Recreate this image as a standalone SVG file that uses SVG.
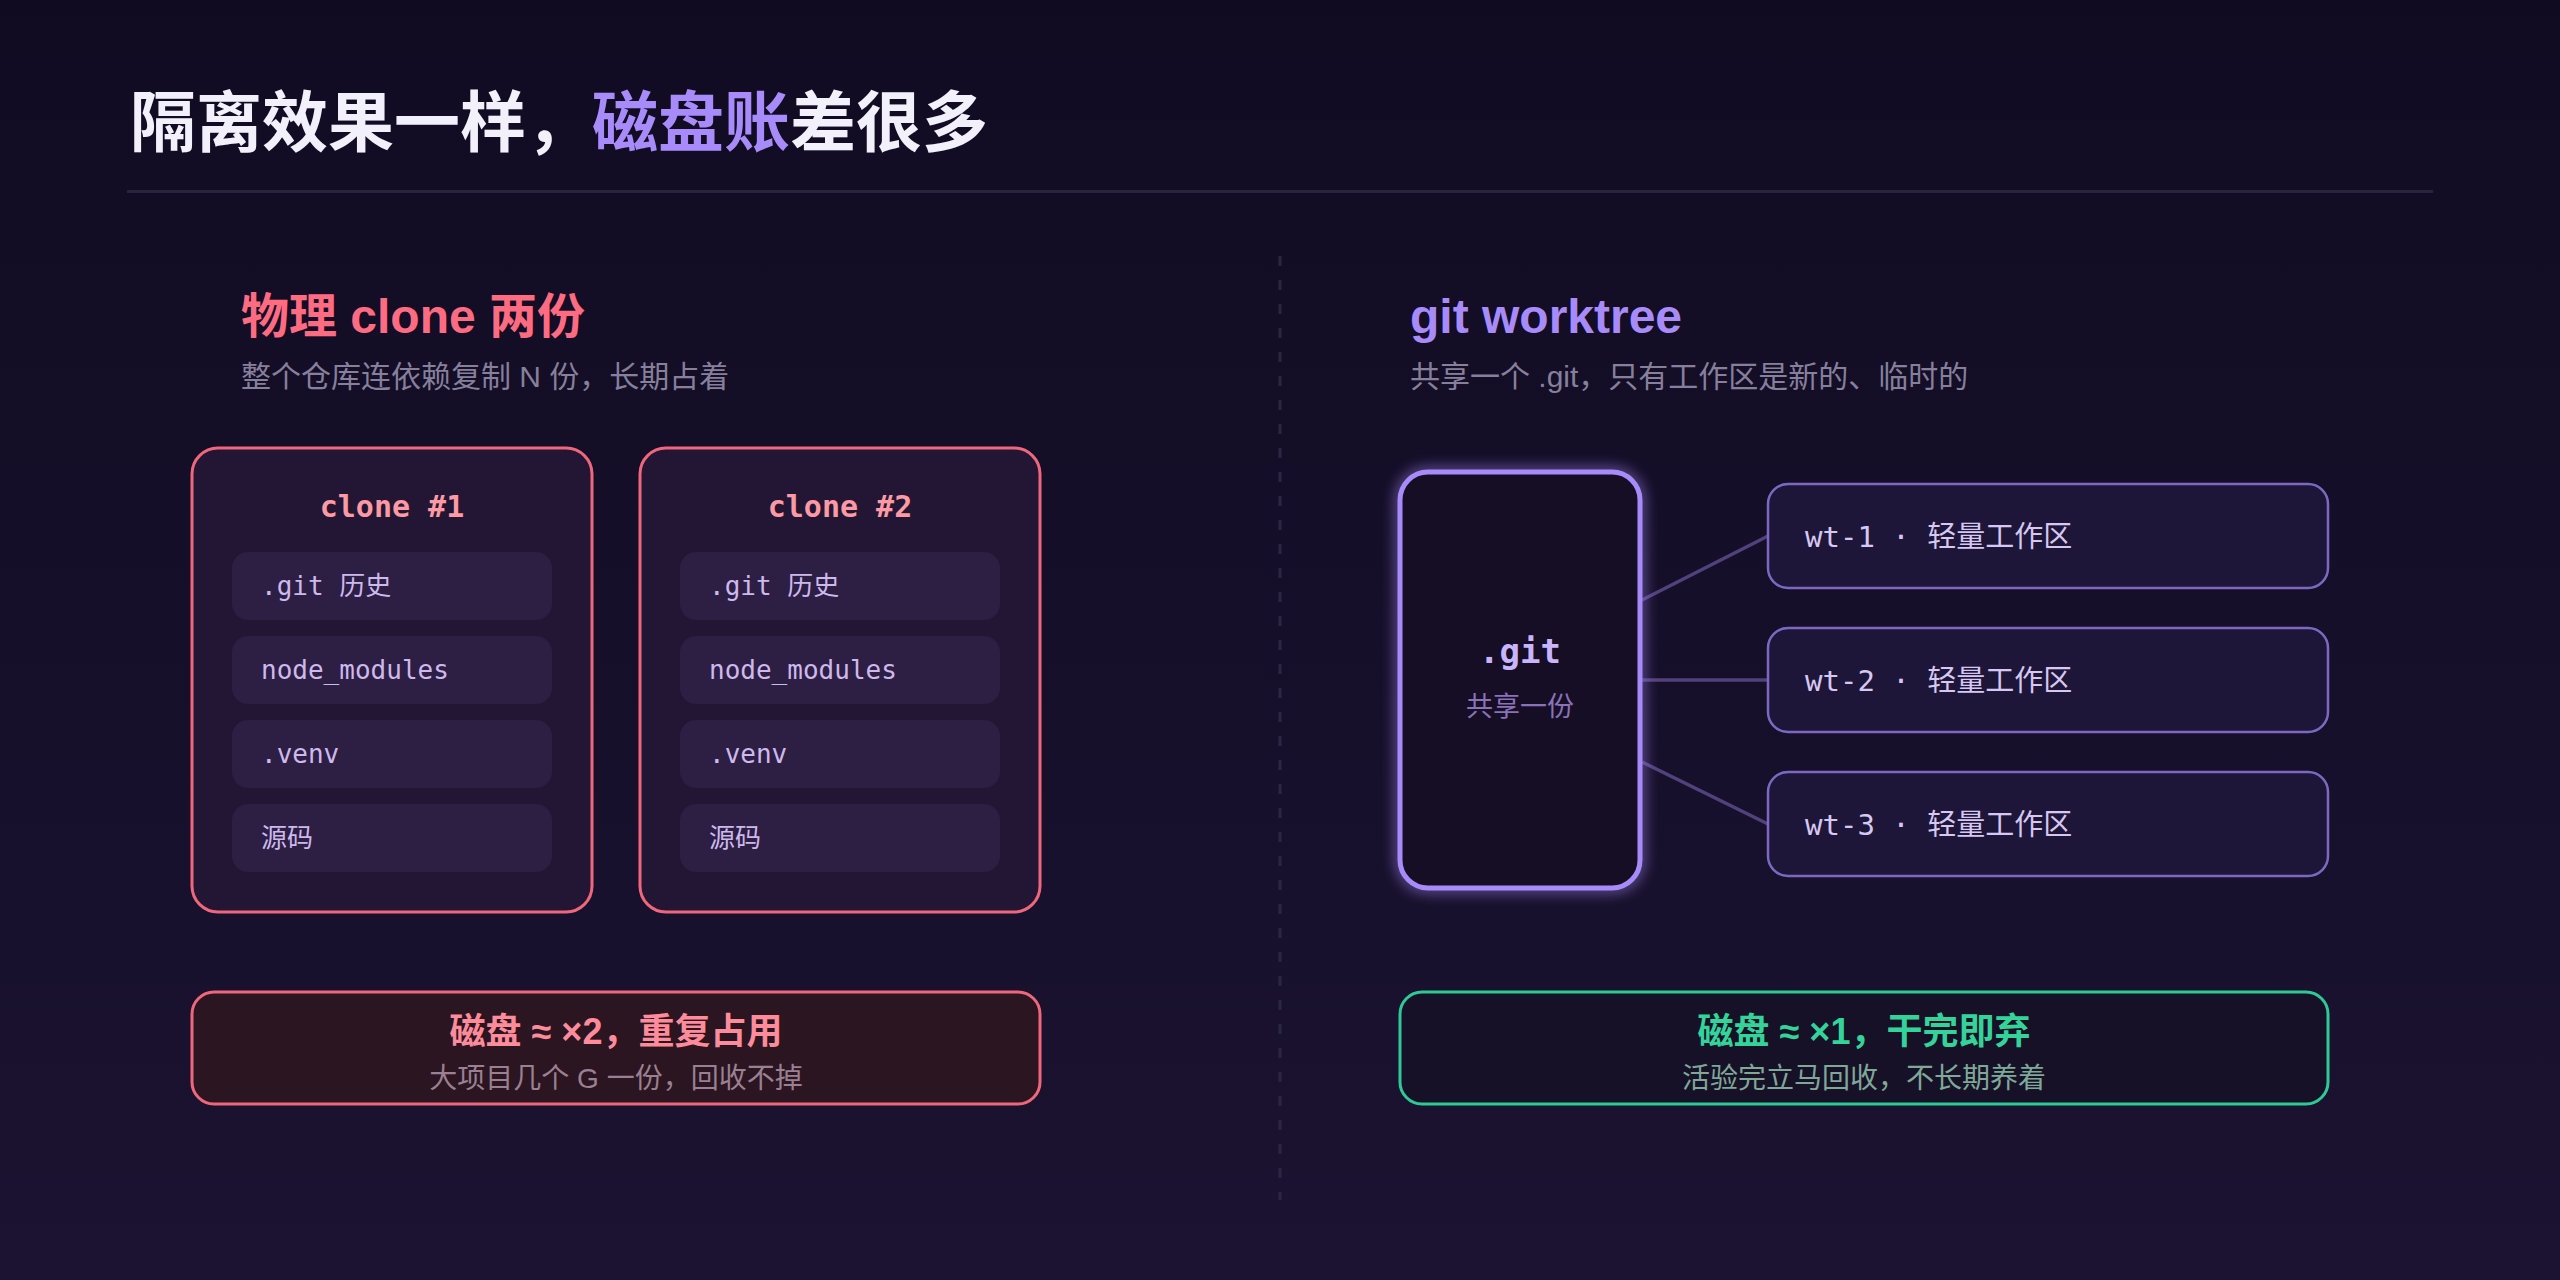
<svg xmlns="http://www.w3.org/2000/svg" width="2560" height="1280" viewBox="0 0 2560 1280">
<defs>
<linearGradient id="bg" x1="0" y1="0" x2="0" y2="1">
<stop offset="0" stop-color="#110b22"/>
<stop offset="1" stop-color="#1b1331"/>
</linearGradient>
<filter id="glow" x="-30%" y="-30%" width="160%" height="160%">
<feGaussianBlur in="SourceGraphic" stdDeviation="7"/>
</filter>
<style>
.sans{font-family:"Liberation Sans","Noto Sans CJK SC",sans-serif}
.mono{font-family:"DejaVu Sans Mono","Noto Sans CJK SC",monospace}
.clone{fill:#221634;stroke:#f0677c;stroke-width:3}
.item{fill:#2d1e44}
.itext{font-size:26px;fill:#cdb9ec}
.ctitle{font-size:30px;font-weight:bold;fill:#ff9aa5}
.wt{fill:#1e1638;stroke:#7c68c0;stroke-width:2.5}
.wtext{font-size:29px;fill:#d6c8f2}
.conn{stroke:#51417c;stroke-width:3.5;fill:none}
.sub{font-size:30px;fill:#86809c}
</style>
</defs>
<rect width="2560" height="1280" fill="url(#bg)"/>

<g id="title">
<text class="sans" x="130" y="146" font-size="66" font-weight="bold" fill="#f2f0fa">隔离效果一样，<tspan fill="#a78bfa">磁盘账</tspan>差很多</text>
<rect x="127" y="190" width="2306" height="3" fill="#2a2340"/>
</g>

<g id="divider">
<line x1="1280" y1="256" x2="1280" y2="1200" stroke="#2c2646" stroke-width="3" stroke-dasharray="10 14"/>
</g>

<g id="left-header">
<text class="sans" x="241" y="333" font-size="48" font-weight="bold" fill="#ff6b81">物理 clone 两份</text>
<text class="sans sub" x="241" y="387">整个仓库连依赖复制 N 份，长期占着</text>
</g>

<g id="right-header">
<text class="sans" x="1410" y="333" font-size="48" font-weight="bold" fill="#a78bfa">git worktree</text>
<text class="sans sub" x="1410" y="387">共享一个 .git，只有工作区是新的、临时的</text>
</g>

<g id="clone1">
<rect class="clone" x="192" y="448" width="400" height="464" rx="26"/>
<text class="mono ctitle" x="392" y="517" text-anchor="middle">clone #1</text>
<rect class="item" x="232" y="552" width="320" height="68" rx="16"/>
<text class="mono itext" x="261" y="595">.git 历史</text>
<rect class="item" x="232" y="636" width="320" height="68" rx="16"/>
<text class="mono itext" x="261" y="679">node_modules</text>
<rect class="item" x="232" y="720" width="320" height="68" rx="16"/>
<text class="mono itext" x="261" y="763">.venv</text>
<rect class="item" x="232" y="804" width="320" height="68" rx="16"/>
<text class="mono itext" x="261" y="847">源码</text>
</g>

<g id="clone2">
<rect class="clone" x="640" y="448" width="400" height="464" rx="26"/>
<text class="mono ctitle" x="840" y="517" text-anchor="middle">clone #2</text>
<rect class="item" x="680" y="552" width="320" height="68" rx="16"/>
<text class="mono itext" x="709" y="595">.git 历史</text>
<rect class="item" x="680" y="636" width="320" height="68" rx="16"/>
<text class="mono itext" x="709" y="679">node_modules</text>
<rect class="item" x="680" y="720" width="320" height="68" rx="16"/>
<text class="mono itext" x="709" y="763">.venv</text>
<rect class="item" x="680" y="804" width="320" height="68" rx="16"/>
<text class="mono itext" x="709" y="847">源码</text>
</g>

<g id="connectors">
<line class="conn" x1="1642" y1="600" x2="1768" y2="536"/>
<line class="conn" x1="1642" y1="680" x2="1768" y2="680"/>
<line class="conn" x1="1642" y1="762" x2="1768" y2="824"/>
</g>

<g id="git">
<rect x="1400" y="472" width="240" height="416" rx="28" fill="none" stroke="#a78bfa" stroke-width="8" opacity="0.7" filter="url(#glow)"/>
<rect x="1400" y="472" width="240" height="416" rx="28" fill="#150e24" stroke="#a78bfa" stroke-width="5"/>
<text class="mono" x="1520" y="663" text-anchor="middle" font-size="34" font-weight="bold" fill="#c8b4ff">.git</text>
<text class="sans" x="1520" y="716" text-anchor="middle" font-size="27" fill="#8a72b8">共享一份</text>
</g>

<g id="wt1">
<rect class="wt" x="1768" y="484" width="560" height="104" rx="20"/>
<text class="mono wtext" x="1805" y="547">wt-1 · 轻量工作区</text>
</g>
<g id="wt2">
<rect class="wt" x="1768" y="628" width="560" height="104" rx="20"/>
<text class="mono wtext" x="1805" y="691">wt-2 · 轻量工作区</text>
</g>
<g id="wt3">
<rect class="wt" x="1768" y="772" width="560" height="104" rx="20"/>
<text class="mono wtext" x="1805" y="835">wt-3 · 轻量工作区</text>
</g>

<g id="clone-summary">
<rect x="192" y="992" width="848" height="112" rx="22" fill="#2a1520" stroke="#f0677c" stroke-width="3"/>
<text class="sans" x="616" y="1044" text-anchor="middle" font-size="36" font-weight="bold" fill="#ff8b9b">磁盘 ≈ ×2，重复占用</text>
<text class="sans" x="616" y="1088" text-anchor="middle" font-size="28" fill="#9a8092">大项目几个 G 一份，回收不掉</text>
</g>

<g id="worktree-summary">
<rect x="1400" y="992" width="928" height="112" rx="22" fill="#171128" stroke="#2fc995" stroke-width="3"/>
<text class="sans" x="1864" y="1044" text-anchor="middle" font-size="36" font-weight="bold" fill="#34d399">磁盘 ≈ ×1，干完即弃</text>
<text class="sans" x="1864" y="1088" text-anchor="middle" font-size="28" fill="#7fa898">活验完立马回收，不长期养着</text>
</g>
</svg>
